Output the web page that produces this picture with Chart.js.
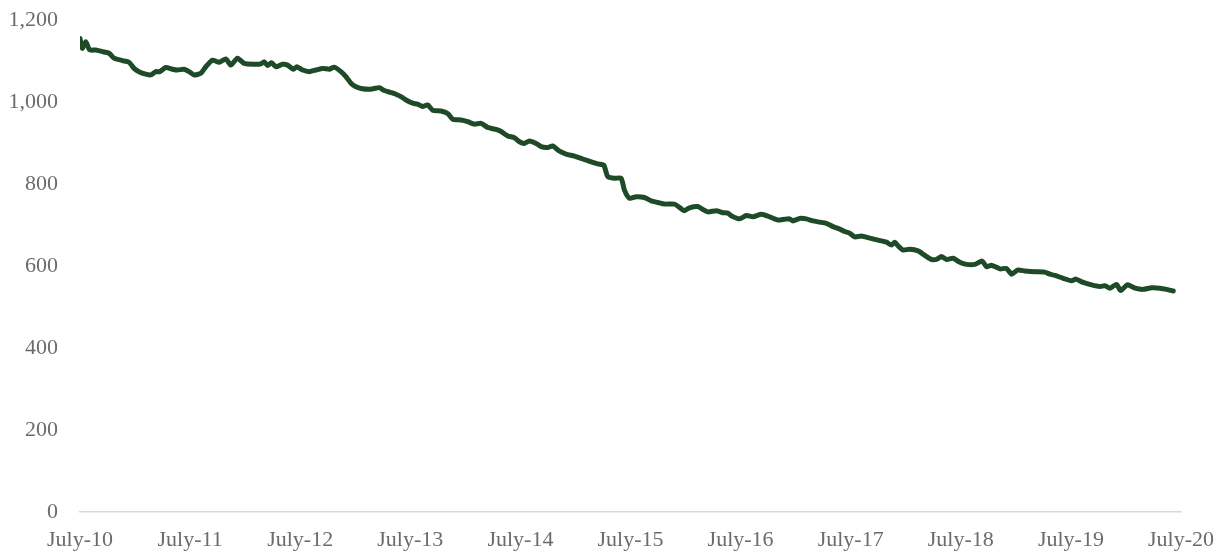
<!DOCTYPE html>
<html>
<head>
<meta charset="utf-8">
<script src="https://cdn.jsdelivr.net/npm/chart.js@4/dist/chart.umd.min.js"></script>
<style>
  html, body { margin: 0; padding: 0; background: #ffffff; }
  #wrap { width: 1220px; height: 552px; position: relative; }
</style>
</head>
<body>
<div id="wrap"><canvas id="c" width="1220" height="552"></canvas></div>
<script>
// Years elapsed since July 2010
const years = [0, 0.021, 0.052, 0.088, 0.143, 0.203, 0.264, 0.309, 0.385, 0.445,
  0.491, 0.536, 0.597, 0.643, 0.688, 0.725, 0.779, 0.839, 0.885, 0.945,
  0.991, 1.036, 1.097, 1.143, 1.203, 1.264, 1.325, 1.370, 1.430, 1.491,
  1.582, 1.643, 1.673, 1.703, 1.739, 1.779, 1.839, 1.885, 1.939, 1.970,
  2.021, 2.082, 2.143, 2.203, 2.264, 2.309, 2.370, 2.415, 2.461, 2.506,
  2.552, 2.627, 2.673, 2.718, 2.764, 2.825, 2.870, 2.915, 2.961, 3.021,
  3.066, 3.112, 3.157, 3.203, 3.279, 3.339, 3.385, 3.461, 3.521, 3.582,
  3.643, 3.703, 3.779, 3.825, 3.885, 3.945, 3.991, 4.036, 4.082, 4.143,
  4.188, 4.248, 4.294, 4.355, 4.415, 4.491, 4.566, 4.643, 4.703, 4.757,
  4.794, 4.855, 4.915, 4.945, 4.991, 5.052, 5.127, 5.188, 5.248, 5.309,
  5.400, 5.445, 5.485, 5.536, 5.612, 5.657, 5.703, 5.779, 5.839, 5.885,
  5.918, 5.991, 6.052, 6.112, 6.188, 6.264, 6.339, 6.400, 6.445, 6.475,
  6.536, 6.597, 6.657, 6.718, 6.779, 6.839, 6.900, 6.945, 6.991, 7.036,
  7.097, 7.173, 7.248, 7.325, 7.370, 7.400, 7.427, 7.475, 7.536, 7.612,
  7.673, 7.734, 7.779, 7.825, 7.870, 7.930, 7.991, 8.052, 8.127, 8.194,
  8.234, 8.279, 8.355, 8.415, 8.461, 8.515, 8.582, 8.673, 8.764, 8.809,
  8.855, 8.930, 9.006, 9.045, 9.112, 9.188, 9.264, 9.309, 9.355, 9.415,
  9.452, 9.512, 9.582, 9.657, 9.734, 9.809, 9.870, 9.930];

const values = [1155, 1131, 1147, 1127, 1127, 1123, 1119, 1107, 1101, 1097,
  1082, 1074, 1068, 1066, 1074, 1074, 1084, 1080, 1078, 1080,
  1074, 1066, 1070, 1086, 1102, 1097, 1105, 1090, 1107, 1094,
  1092, 1093, 1098, 1089, 1096, 1086, 1092, 1090, 1080, 1086,
  1078, 1074, 1078, 1082, 1080, 1085, 1074, 1062, 1046, 1037,
  1033, 1031, 1033, 1035, 1028, 1023, 1019, 1013, 1005, 997,
  995, 989, 993, 980, 978, 972, 958, 956, 952, 946,
  948, 938, 933, 928, 917, 913, 903, 899, 905, 899,
  891, 889, 893, 880, 873, 868, 861, 854, 849, 846,
  818, 814, 814, 785, 765, 769, 767, 759, 755, 751,
  751, 743, 735, 742, 745, 738, 732, 735, 730, 729,
  722, 715, 723, 720, 726, 720, 712, 714, 715, 710,
  716, 715, 710, 707, 704, 696, 690, 684, 680, 671,
  673, 668, 663, 658, 651, 658, 650, 639, 641, 637,
  626, 616, 616, 623, 616, 619, 609, 604, 604, 612,
  598, 602, 593, 594, 580, 590, 588, 586, 585, 580,
  577, 570, 564, 568, 560, 554, 550, 552, 546, 555,
  540, 554, 546, 543, 547, 546, 543, 539];

const xTickLabels = ["July-10", "July-11", "July-12", "July-13", "July-14", "July-15",
  "July-16", "July-17", "July-18", "July-19", "July-20"];
const yTicks = [0, 200, 400, 600, 800, 1000, 1200];

const points = years.map((t, i) => ({ x: t, y: values[i] }));
const labelFont = { family: "'Liberation Serif', 'Times New Roman', serif", size: 22 };
const labelColor = '#6b6b6b';

new Chart(document.getElementById('c'), {
  type: 'line',
  data: {
    datasets: [{
      data: points,
      borderColor: '#1f4a27',
      borderWidth: 5,
      pointRadius: 0,
      tension: 0.2,
      fill: false,
      borderJoinStyle: 'round',
      borderCapStyle: 'round'
    }]
  },
  options: {
    responsive: false,
    animation: false,
    events: [],
    layout: { padding: { left: 0, right: 39, top: 20, bottom: 0 } },
    plugins: { legend: { display: false }, tooltip: { enabled: false } },
    scales: {
      x: {
        type: 'linear',
        min: 0,
        max: 10,
        afterBuildTicks: (s) => { s.ticks = xTickLabels.map((_, i) => ({ value: i })); },
        ticks: {
          autoSkip: false,
          maxRotation: 0,
          padding: 7,
          color: labelColor,
          font: labelFont,
          callback: (v) => xTickLabels[v]
        },
        grid: { display: false },
        border: { display: true, color: '#d9d9d9', width: 1.5 },
        afterFit: (s) => { s.height = 40; s.paddingLeft = 0; s.paddingRight = 0; }
      },
      y: {
        min: 0,
        max: 1200,
        afterBuildTicks: (s) => { s.ticks = yTicks.map(v => ({ value: v })); },
        ticks: {
          padding: 14,
          color: labelColor,
          font: labelFont,
          callback: (v) => v.toLocaleString('en-US')
        },
        grid: { display: false },
        border: { display: false },
        afterFit: (s) => { s.width = 80; s.paddingTop = 0; s.paddingBottom = 0; }
      }
    }
  }
});
</script>
</body>
</html>
